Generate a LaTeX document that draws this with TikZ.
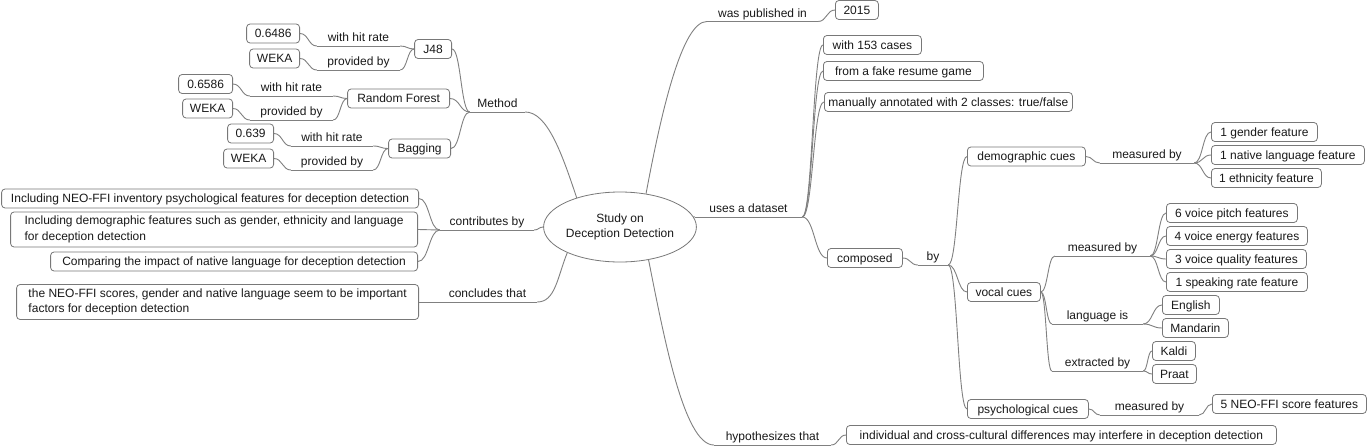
\documentclass[tikz,border=0pt]{standalone}
\usepackage{fontspec}
\setmainfont{Liberation Sans}
\usetikzlibrary{shapes.geometric,calc}
\definecolor{linec}{RGB}{128,128,128}
\definecolor{boxc}{RGB}{120,120,120}
\definecolor{txt}{RGB}{25,25,25}
\newcommand\fs{\fontsize{12}{15.5}\selectfont}
\newcommand\lnk[2]{\draw[edge] let \p1=(#1), \p2=(#2) in (\p1) .. controls ({0.5*\x1+0.5*\x2},\y1) and ({0.5*\x1+0.5*\x2},\y2) .. (\p2);}
\begin{document}
\begin{tikzpicture}[x=1pt,y=-1pt,
  edge/.style={draw=linec, line width=0.9pt},
  bx/.style={draw=boxc, line width=0.8pt, fill=white, rounded corners=3.5pt, inner xsep=0pt, inner ysep=0pt, font=\fs, text=txt},
  box/.style={bx, minimum height=19pt, text height=9.5pt, text depth=1.5pt},
  boxtwo/.style={bx, minimum height=35pt, align=left},
  fork/.style={anchor=south, inner xsep=0pt, inner ysep=1.5pt, text height=9pt, text depth=2.5pt, font=\fs, text=txt},
  rootnode/.style={ellipse, draw=boxc, line width=0.8pt, fill=white, minimum width=134pt, minimum height=70pt, inner sep=0pt, align=center, font=\fs, text=txt}]
\fill[white] (0,0) rectangle (1368,447);
\useasboundingbox (0,0) rectangle (1368,447);

% root
\node[rootnode] (root) at (620,227) {Study on\\Deception Detection};

% ---------- right side forks
\node[fork, minimum width=111pt] (fpub) at (762.5,21.5) {was published in};
\node[fork, minimum width=107pt] (fuses) at (748.5,217) {uses a dataset};
\node[fork, minimum width=30pt] (fby) at (933,265) {by};
\node[fork, minimum width=94pt] (fdmeas) at (1147,163) {measured by};
\node[fork, minimum width=95pt] (fvmeas) at (1102.5,256) {measured by};
\node[fork, minimum width=91pt] (flang) at (1097.5,324) {language is};
\node[fork, minimum width=91pt] (fextr) at (1097.5,371) {extracted by};
\node[fork, minimum width=99pt] (fpmeas) at (1149.5,415) {measured by};
\node[fork, minimum width=117pt] (fhyp) at (772.5,445) {hypothesizes that};

% ---------- left side forks
\node[fork, minimum width=55pt] (fmethod) at (497.5,112) {Method};
\node[fork, minimum width=83pt] (fjhr) at (358.5,46) {with hit rate};
\node[fork, minimum width=83pt] (fjpb) at (358.5,70) {provided by};
\node[fork, minimum width=83pt] (frhr) at (291.5,96) {with hit rate};
\node[fork, minimum width=83pt] (frpb) at (291.5,120) {provided by};
\node[fork, minimum width=82pt] (fbhr) at (332,146) {with hit rate};
\node[fork, minimum width=82pt] (fbpb) at (332,170) {provided by};
\node[fork, minimum width=94pt] (fcontrib) at (487,230) {contributes by};
\node[fork, minimum width=99pt] (fconcl) at (487.5,302) {concludes that};

\foreach \f in {fpub,fuses,fby,fdmeas,fvmeas,flang,fextr,fpmeas,fhyp,fmethod,fjhr,fjpb,frhr,frpb,fbhr,fbpb,fcontrib,fconcl}
  \draw[edge] (\f.south west) -- (\f.south east);

% ---------- right side boxes
\node[box, anchor=west, minimum width=43pt] (y2015) at (835,10) {2015};
\node[box, anchor=west, minimum width=98pt] (c153) at (823,45) {with 153 cases};
\node[box, anchor=west, minimum width=160pt] (cfake) at (823,71) {from a fake resume game};
\node[box, anchor=west, minimum width=248pt] (cman) at (824,102) {manually annotated with 2 classes: true/false};
\node[box, anchor=west, minimum width=75pt] (comp) at (827,258) {composed};
\node[box, anchor=west, minimum width=118pt] (demo) at (967,156.5) {demographic cues};
\node[box, anchor=west, minimum width=73pt] (vocal) at (967,292) {vocal cues};
\node[box, anchor=west, minimum width=121pt] (psych) at (967,409) {psychological cues};
\node[box, anchor=west, minimum width=106pt] (gender) at (1211,132) {1 gender feature};
\node[box, anchor=west, minimum width=153pt] (native) at (1211,155) {1 native language feature};
\node[box, anchor=west, minimum width=110pt] (ethnic) at (1211,178) {1 ethnicity feature};
\node[box, anchor=west, minimum width=131pt] (pitch) at (1166,213) {6 voice pitch features};
\node[box, anchor=west, minimum width=141pt] (energy) at (1166,236) {4 voice energy features};
\node[box, anchor=west, minimum width=140pt] (quality) at (1166,259) {3 voice quality features};
\node[box, anchor=west, minimum width=141pt] (rate) at (1166,282) {1 speaking rate feature};
\node[box, anchor=west, minimum width=57pt] (eng) at (1162,305) {English};
\node[box, anchor=west, minimum width=66pt] (mand) at (1162,328) {Mandarin};
\node[box, anchor=west, minimum width=43pt] (kaldi) at (1152,351) {Kaldi};
\node[box, anchor=west, minimum width=44pt] (praat) at (1152,374) {Praat};
\node[box, anchor=west, minimum width=154pt] (neo) at (1212,404) {5 NEO-FFI score features};
\node[box, anchor=west, minimum width=430pt] (indiv) at (846,435) {individual and cross-cultural differences may interfere in deception detection};

% ---------- left side boxes
\node[box, anchor=east, minimum width=37pt] (j48) at (452,49) {J48};
\node[box, anchor=east, minimum width=102pt] (rf) at (450,98.5) {Random Forest};
\node[box, anchor=east, minimum width=62pt] (bag) at (451,148.5) {Bagging};
\node[box, anchor=east, minimum width=53pt] (va) at (300,33.5) {0.6486};
\node[box, anchor=east, minimum width=50pt] (wa) at (300,58.5) {WEKA};
\node[box, anchor=east, minimum width=54pt] (vb) at (233,84) {0.6586};
\node[box, anchor=east, minimum width=50pt] (wb) at (233,108.5) {WEKA};
\node[box, anchor=east, minimum width=46pt] (vc) at (274,133.5) {0.639};
\node[box, anchor=east, minimum width=50pt] (wc) at (274,158.5) {WEKA};
\node[box, anchor=east, minimum width=417pt] (inc1) at (419,198.5) {Including NEO-FFI inventory psychological features for deception detection};
\node[boxtwo, anchor=east, minimum width=407pt] (inc2) at (418,229.5) {Including demographic features such as gender, ethnicity and language\\for deception detection};
\node[box, anchor=east, minimum width=367pt] (cmp) at (418,261.5) {Comparing the impact of native language for deception detection};
\node[boxtwo, anchor=east, minimum width=402pt] (concl) at (419,302) {the NEO-FFI scores, gender and native language seem to be important\\factors for deception detection};

% ---------- root connectors
\draw[edge] (root.52) .. controls +(15,-80) and +(-25,0) .. (fpub.south west);
\lnk{root.8}{fuses.south west}
\draw[edge] (root.311) .. controls +(15,75) and +(-30,0) .. (fhyp.south west);
\draw[edge] (fmethod.south east) .. controls +(22,0) and +(-15,-45) .. (root.146);
\lnk{fcontrib.south east}{root.west}
\draw[edge] (fconcl.south east) .. controls +(18,0) and +(-10,25) .. (root.206);

% ---------- right connectors
\lnk{fpub.south east}{y2015.west}
\lnk{fuses.south east}{c153.west}
\lnk{fuses.south east}{cfake.west}
\lnk{fuses.south east}{cman.west}
\lnk{fuses.south east}{comp.west}
\lnk{comp.east}{fby.south west}
\lnk{fby.south east}{demo.west}
\lnk{fby.south east}{vocal.west}
\lnk{fby.south east}{psych.west}
\lnk{demo.east}{fdmeas.south west}
\lnk{fdmeas.south east}{gender.west}
\lnk{fdmeas.south east}{native.west}
\lnk{fdmeas.south east}{ethnic.west}
\lnk{vocal.east}{fvmeas.south west}
\lnk{vocal.east}{flang.south west}
\lnk{vocal.east}{fextr.south west}
\lnk{fvmeas.south east}{pitch.west}
\lnk{fvmeas.south east}{energy.west}
\lnk{fvmeas.south east}{quality.west}
\lnk{fvmeas.south east}{rate.west}
\lnk{flang.south east}{eng.west}
\lnk{flang.south east}{mand.west}
\lnk{fextr.south east}{kaldi.west}
\lnk{fextr.south east}{praat.west}
\lnk{psych.east}{fpmeas.south west}
\lnk{fpmeas.south east}{neo.west}
\lnk{fhyp.south east}{indiv.west}

% ---------- left connectors
\lnk{fmethod.south west}{j48.east}
\lnk{fmethod.south west}{rf.east}
\lnk{fmethod.south west}{bag.east}
\lnk{j48.west}{fjhr.south east}
\lnk{j48.west}{fjpb.south east}
\lnk{fjhr.south west}{va.east}
\lnk{fjpb.south west}{wa.east}
\lnk{rf.west}{frhr.south east}
\lnk{rf.west}{frpb.south east}
\lnk{frhr.south west}{vb.east}
\lnk{frpb.south west}{wb.east}
\lnk{bag.west}{fbhr.south east}
\lnk{bag.west}{fbpb.south east}
\lnk{fbhr.south west}{vc.east}
\lnk{fbpb.south west}{wc.east}
\lnk{fcontrib.south west}{inc1.east}
\lnk{fcontrib.south west}{inc2.east}
\lnk{fcontrib.south west}{cmp.east}
\lnk{concl.east}{fconcl.south west}
\end{tikzpicture}
\end{document}
